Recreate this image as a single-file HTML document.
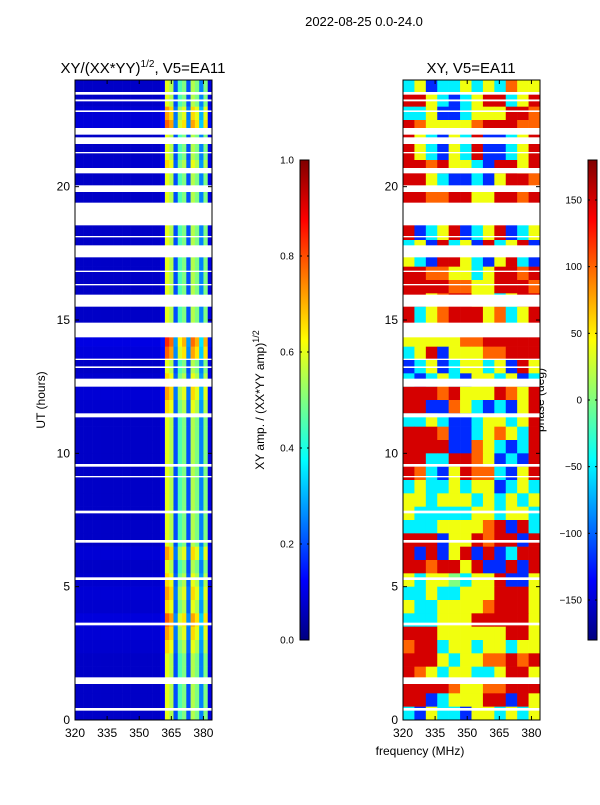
<!DOCTYPE html>
<html><head><meta charset="utf-8">
<style>
body{margin:0;background:#fff;font-family:"Liberation Sans","DejaVu Sans",sans-serif;}
svg text{font-family:"Liberation Sans","DejaVu Sans",sans-serif;fill:#000;}
</style></head>
<body>
<svg id="fig" width="600" height="800" viewBox="0 0 600 800" xmlns="http://www.w3.org/2000/svg">
<rect width="600" height="800" fill="#fff"/>
<text x="364" y="26" font-size="13" text-anchor="middle">2022-08-25 0.0-24.0</text>
<text x="143" y="73" font-size="15" text-anchor="middle">XY/(XX*YY)<tspan font-size="10" dy="-6">1/2</tspan><tspan dy="6">, V5=EA11</tspan></text>
<text x="471" y="73" font-size="15" text-anchor="middle">XY, V5=EA11</text>
<text x="45" y="400" font-size="12" text-anchor="middle" transform="rotate(-90 45 400)">UT (hours)</text>
<text x="420" y="755" font-size="12" text-anchor="middle">frequency (MHz)</text>
<text x="264" y="400" font-size="12" text-anchor="middle" transform="rotate(-90 264 400)">XY amp. / (XX*YY amp)<tspan font-size="9" dy="-5">1/2</tspan></text>
<text x="544" y="400" font-size="12" text-anchor="middle" transform="rotate(-90 544 400)">phase (deg)</text>
<g id="left"></g><g id="right"></g><g id="cbars"></g><g id="axes"></g>
</svg>
<script>
// ---- data ----
const freqTicks=[320,335,350,365,380];
const hourTicks=[0,5,10,15,20];
const ampTicks=[0.0,0.2,0.4,0.6,0.8,1.0];
const phaseTicks=[-150,-100,-50,0,50,100,150];
// left panel: amplitude per 2 MHz column (320-384) and per-0.5h row gain (top=24h)
const ampCols=[0.07,0.07,0.07,0.07,0.07,0.07,0.07,0.07,0.07,0.07,0.07,0.07,0.07,0.07,0.07,0.07,0.07,0.07,0.07,0.07,0.1,0.6,0.55,0.2,0.45,0.5,0.2,0.55,0.5,0.25,0.5,0.1];
const ampRowGain=[1,1,1.2,1.3,1,1,1.1,1,1,1,1,1,1,1,1,1,1,1,1,1.4,1.3,1,1.1,1.2,1.1,1,1,1,1,1,1,1,1,1,1,1.2,1,1.1,1.2,1.1,1.3,1.2,1.1,1,1,1,1,1];
// right panel: phase codes per row (top=24h, 0.5h rows), 12 columns
const phaseRows=["CYBCCYCYCOYY","RRYCBCYRRCYR","CCYBBCYYYRRO","ROYYYYORRROO","RYCBYCRBBCYR","RYCBYCRBBCYR","RRORYYCBRRYR","RRYCBBCBYRRO","RROORRYYRROR","RROORRYYRROR","RBCYRBCYRBCY","RBCYRBCYRBCY","CYBRCYBRCYRB","YCBRRYCBYRCB","RROOYYCYRROR","RRRROOYYRRRO","RRYORRYYCYRR","RCYORRRYOCYR","RCYORRRYOCYR","YYYYYOORRRRR","CYRBYYYOORRR","BCYBCYYCYBRY","CBCYCBYYCYBC","RRRORYYYROYR","RRBBOYCBCBYR","CCYCBBCYYCYR","RRROBBCYOYCR","RRRRBBOYCBCR","RRCCRROYBCBR","ROCBYROOCBYR","CYCCYCYYBCYC","YYCYYYCYCYCY","YCCCCCYYCYYC","CCCYYYYORBRC","RRRBYYRORRBR","RBRBYRBRBCRR","RRORRYRBBRBR","YCYYGCYYRBBY","CCYCCYYYRRRY","YCCYYYYORRRY","CCCYYYRRRRRY","RRRYYYYYYRRY","ORRCYYCYYCYY","RRRYCYYOOROR","ROYCYYCCYRRY","RRRROYYOORRR","RRBCYYYRRBRY","CBYCCBYYCYCY"];
const phaseCode={R:150,O:100,Y:40,G:0,C:-50,B:-120,D:-170};
// white (flagged) time ranges in hours
const gaps=[[23.45,23.55],[23.2,23.27],[22.8,22.86],[21.95,22.2],[21.6,21.85],[21.25,21.3],[20.5,20.7],[19.8,20.05],[18.55,19.4],[18.1,18.15],[17.35,17.8],[16.8,16.85],[16.3,16.35],[15.5,15.95],[14.35,14.9],[13.5,13.55],[13.2,13.26],[12.5,12.8],[11.35,11.5],[9.5,9.6],[9.1,9.15],[7.75,7.85],[6.65,6.75],[5.25,5.35],[3.55,3.65],[1.35,1.6],[0.35,0.45]];
// ---- axes ----
const yTop=80,yBot=720,fMin=320,fMax=384;
const yOf=h=>yBot-(h/24)*(yBot-yTop);
const xOfL=f=>75+(f-fMin)/(fMax-fMin)*137;
const xOfR=f=>403+(f-fMin)/(fMax-fMin)*137;
const NS="http://www.w3.org/2000/svg";
function jet(t){t=Math.max(0,Math.min(1,t));
 const r=Math.min(1,Math.max(0,Math.min(4*t-1.5,-4*t+4.5)));
 const g=Math.min(1,Math.max(0,Math.min(4*t-0.5,-4*t+3.5)));
 const b=Math.min(1,Math.max(0,Math.min(4*t+0.5,-4*t+2.5)));
 return `rgb(${Math.round(r*255)},${Math.round(g*255)},${Math.round(b*255)})`;}
function mk(tag,attrs,parent){const e=document.createElementNS(NS,tag);for(const k in attrs)e.setAttribute(k,attrs[k]);parent.appendChild(e);return e;}
const L=document.getElementById('left'),R=document.getElementById('right'),CB=document.getElementById('cbars'),AX=document.getElementById('axes');
const nRows=ampRowGain.length;
for(let i=0;i<nRows;i++){
 const h1=24-i*0.5,h0=h1-0.5;
 for(let j=0;j<ampCols.length;j++){
  const f0=fMin+j*2,f1=f0+2;
  const c=mk('rect',{x:xOfL(f0),y:yOf(h1),width:xOfL(f1)-xOfL(f0)+0.3,height:yOf(h0)-yOf(h1)+0.3,fill:jet(ampCols[j]*ampRowGain[i])},L);
  
  
 }
 const row=phaseRows[i];
 for(let j=0;j<row.length;j++){
  const w=(fMax-fMin)/row.length,f0=fMin+j*w,f1=f0+w;
  const v=phaseCode[row[j]];
  const c=mk('rect',{x:xOfR(f0),y:yOf(h1),width:xOfR(f1)-xOfR(f0)+0.3,height:yOf(h0)-yOf(h1)+0.3,fill:jet((v+180)/360)},R);
  
  
 }
}
for(const g of gaps){for(const xf of [xOfL,xOfR]){
 const r=mk('rect',{x:xf(fMin),y:yOf(g[1]),width:137,height:Math.max(1,yOf(g[0])-yOf(g[1])),fill:'#fff'},AX);
 
 
}}
for(const xf of [xOfL,xOfR]){
 const fr=mk('rect',{x:xf(fMin),y:yTop,width:137,height:yBot-yTop,fill:'none',stroke:'#000','stroke-width':1},AX);
 
 
 for(const f of freqTicks){const x=xf(f);
  mk('line',{x1:x,x2:x,y1:yBot,y2:yBot-4,stroke:'#000'},AX);mk('line',{x1:x,x2:x,y1:yTop,y2:yTop+4,stroke:'#000'},AX);
  const t=mk('text',{x:x,y:yBot+17,'font-size':12,'text-anchor':'middle'},AX);t.textContent=f;
  
  }
 for(const h of hourTicks){const y=yOf(h);
  mk('line',{x1:xf(fMin),x2:xf(fMin)+4,y1:y,y2:y,stroke:'#000'},AX);mk('line',{x1:xf(fMax),x2:xf(fMax)-4,y1:y,y2:y,stroke:'#000'},AX);
  const t=mk('text',{x:xf(fMin)-5,y:y+4,'font-size':12,'text-anchor':'end'},AX);t.textContent=h;
  
  }
}
// colorbars
const defs=mk('defs',{},CB);
const gr=mk('linearGradient',{id:'jetg',x1:0,y1:1,x2:0,y2:0},defs);
for(let k=0;k<=16;k++)mk('stop',{offset:k/16,'stop-color':jet(k/16)},gr);
function cbar(x,ticks,vmin,vmax,name,fmt){
 const b=mk('rect',{x:x,y:160,width:9,height:480,fill:'url(#jetg)',stroke:'#000','stroke-width':1},CB);
 
 
 for(const v of ticks){const y=640-(v-vmin)/(vmax-vmin)*480;
  mk('line',{x1:x,x2:x+2,y1:y,y2:y,stroke:'#000'},CB);mk('line',{x1:x+9,x2:x+7,y1:y,y2:y,stroke:'#000'},CB);
  const t=mk('text',{x:x-6,y:y+3.5,'font-size':10,'text-anchor':'end'},CB);t.textContent=fmt(v);
  
  }
}
cbar(300,ampTicks,0,1,'amp-colorbar',v=>v.toFixed(1));
cbar(588,phaseTicks,-180,180,'phase-colorbar',v=>v<0?'\u2212'+(-v):String(v));
</script>
</body></html>
